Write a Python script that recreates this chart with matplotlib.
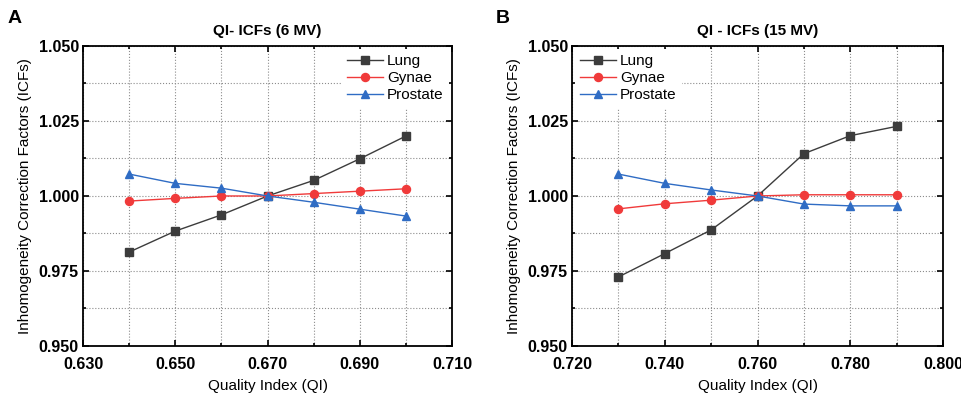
import numpy as np
import matplotlib.pyplot as plt
from matplotlib.ticker import MultipleLocator, FormatStrFormatter

plt.rcParams['font.family'] = ['Liberation Sans', 'DejaVu Sans']

# panel A (6 MV)
qi_6 = [0.64, 0.65, 0.66, 0.67, 0.68, 0.69, 0.70]
lung_6 = [0.9813, 0.9883, 0.9937, 1.0000, 1.0052, 1.0124, 1.0200]
gynae_6 = [0.9983, 0.9992, 1.0000, 1.0000, 1.0008, 1.0016, 1.0024]
prostate_6 = [1.0073, 1.0042, 1.0026, 1.0000, 0.9979, 0.9956, 0.9933]
ticks_6 = [0.630, 0.650, 0.670, 0.690, 0.710]

# panel B (15 MV)
qi_15 = [0.73, 0.74, 0.75, 0.76, 0.77, 0.78, 0.79]
lung_15 = [0.9730, 0.9808, 0.9887, 1.0000, 1.0141, 1.0201, 1.0232]
gynae_15 = [0.9957, 0.9974, 0.9986, 1.0000, 1.0004, 1.0004, 1.0004]
prostate_15 = [1.0073, 1.0042, 1.0020, 1.0000, 0.9973, 0.9967, 0.9967]
ticks_15 = [0.720, 0.740, 0.760, 0.780, 0.800]

series_names = ['Lung', 'Gynae', 'Prostate']
colors = ['#3c3c3c', '#f03a3a', '#2f6cc4']
markers = ['s', 'o', '^']

fig = plt.figure(figsize=(9.62, 3.98), dpi=100)
axA = fig.add_axes([0.0863, 0.1307, 0.3837, 0.7538])
axB = fig.add_axes([0.5946, 0.1307, 0.3857, 0.7538])


def draw_panel(ax, x, ys, xticks, title, letter, legend_loc):
    for y, name, c, m in zip(ys, series_names, colors, markers):
        ax.plot(x, y, color=c, marker=m, markersize=5.8, linewidth=1.0, label=name)
    ax.set_xlim(xticks[0], xticks[-1])
    ax.set_ylim(0.950, 1.050)
    ax.set_xticks(xticks)
    ax.xaxis.set_minor_locator(MultipleLocator(0.01))
    ax.yaxis.set_major_locator(MultipleLocator(0.025))
    ax.yaxis.set_minor_locator(MultipleLocator(0.0125))
    ax.xaxis.set_major_formatter(FormatStrFormatter('%.3f'))
    ax.yaxis.set_major_formatter(FormatStrFormatter('%.3f'))
    ax.grid(True, which='both', linestyle=':', color='#8c8c8c', linewidth=0.8)
    ax.set_axisbelow(True)
    ax.tick_params(which='both', direction='in', top=True, right=True, width=1.2)
    ax.tick_params(which='major', length=4, labelsize=11.5)
    ax.tick_params(axis='x', which='major', pad=8)
    ax.tick_params(axis='y', which='major', pad=3)
    ax.tick_params(which='minor', length=2.5)
    for lab in ax.get_xticklabels() + ax.get_yticklabels():
        lab.set_fontweight('bold')
    for s in ax.spines.values():
        s.set_linewidth(1.3)
    ax.set_xlabel('Quality Index (QI)', fontsize=11, labelpad=5)
    ax.set_ylabel('Inhomogeneity Correction Factors (ICFs)', fontsize=11, labelpad=5)
    ax.set_title(title, fontsize=11, fontweight='bold', pad=8)
    ax.text(-0.205, 1.09, letter, transform=ax.transAxes, fontsize=14, fontweight='bold',
            ha='left', va='center')
    leg = ax.legend(loc=legend_loc, frameon=True, fontsize=11, handlelength=2.3,
                    handletextpad=0.3, labelspacing=0.2, borderaxespad=0.2,
                    borderpad=0.35)
    leg.get_frame().set_edgecolor('none')
    leg.get_frame().set_facecolor('white')
    leg.get_frame().set_alpha(1.0)


draw_panel(axA, qi_6, [lung_6, gynae_6, prostate_6], ticks_6,
           'QI- ICFs (6 MV)', 'A', 'upper right')
draw_panel(axB, qi_15, [lung_15, gynae_15, prostate_15], ticks_15,
           'QI - ICFs (15 MV)', 'B', 'upper left')

fig.savefig('out.png', dpi=100)
